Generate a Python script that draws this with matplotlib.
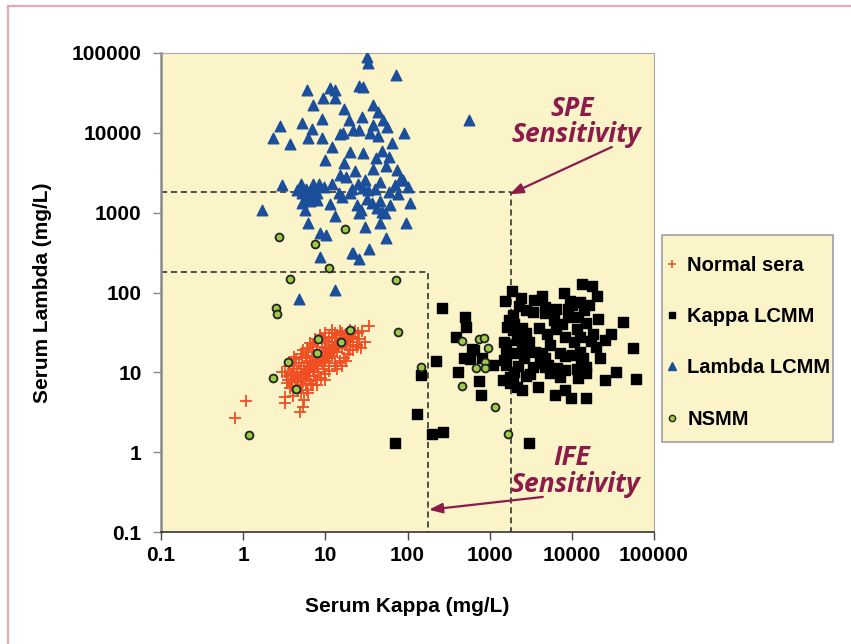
import matplotlib.pyplot as plt
from matplotlib.lines import Line2D
from matplotlib.patches import Rectangle

# Normal sera (kappa, lambda) in mg/L
normal_kappa = [4.0, 4.5, 5, 5.5, 6, 6.5, 7, 7.5, 8, 9, 10, 11, 12, 13, 15, 17,
                4.2, 4.8, 5.2, 5.8, 6.2, 7, 8, 9, 10, 12, 14, 16,
                4.5, 5, 5.5, 6, 6.5, 7, 8, 9, 10, 11, 12, 14, 16, 18, 20,
                3.5, 3.8, 4, 4.6, 5.2, 5.8, 6.4, 7.2, 8.2, 9.5, 11, 13,
                6, 7, 5, 6.8, 7.8, 8.6, 9.4, 10.5, 11.5, 12.5, 13.5, 15, 17, 19, 21,
                5, 6, 7, 8, 9, 11, 13, 15, 18, 20, 22, 25, 24, 26, 22, 19, 17, 15, 13, 11, 9.8, 8.8, 7.6, 6.6,
                3.2, 3.6, 4.4, 5.4, 6.5, 7.5, 8.5, 10, 12,
                34, 28, 24, 20, 3.0, 3.4, 3.7, 3.2, 3.2, 4.9, 5.3, 5.5, 1.08, 0.79, 4, 4.6,
                30, 27, 16, 14, 18, 10, 8, 6.2,
                4.3, 5.1, 5.9, 6.7, 7.4, 8.3, 9.2, 10.2, 11.3, 12.6, 14.2, 3.9, 4.7, 5.6, 6.3, 7.1, 8.0,
                3.4, 3.9, 4.4, 5.0, 5.7, 6.5, 9.0, 10.8, 12.2, 14.5, 16.5, 19.0, 21.5, 23.0, 3.7, 4.1]
normal_lambda = [9, 10, 11, 12, 13, 14, 15, 16, 17, 18, 20, 21, 22, 24, 25, 27,
                 12, 13, 15, 16, 18, 19, 21, 23, 25, 27, 29, 31,
                 7.5, 8, 8.5, 9, 10, 11, 12, 13, 14, 15, 16, 18, 20, 22, 24,
                 8, 9.5, 11, 6.5, 7, 7.2, 8, 9, 10, 11, 12, 13,
                 6, 7, 5.5, 12, 13.5, 15, 16.5, 17.5, 19, 20, 21.5, 23, 24, 26, 28,
                 17, 20, 22, 24, 26, 28, 31, 33, 30, 34, 28, 31, 22, 26, 19, 17, 15, 14, 12, 10.5, 9.5, 8.5, 8, 7.2,
                 10, 12, 14.5, 19, 23, 26, 29, 31, 34,
                 38, 33, 21, 19, 10, 7.3, 6.3, 4.9, 4.1, 3.2, 3.7, 4.5, 4.4, 2.7, 5, 5.8,
                 24, 20, 12, 11, 14, 8, 7, 5.5,
                 8.2, 9.3, 10.5, 11.5, 12.5, 13.8, 14.5, 16, 17.5, 19.5, 21, 6.8, 7.8, 9.8, 10.8, 12.8, 14.2,
                 9.0, 7.8, 8.8, 9.6, 10.2, 11.8, 14.0, 16.0, 18.0, 21.0, 23.0, 25.0, 26.0, 33.0, 13.5, 15.5]

# Kappa LCMM
kappa_kappa = [262, 500, 520, 390, 610, 650, 490, 570, 800, 1100, 410, 740, 780, 220, 145, 130, 200, 270, 3000, 71,
               13200, 17400, 1860, 4300, 1530, 9500, 12500, 2260, 2800, 3350, 4700, 4700, 6400, 9000, 10000, 1900,
               11800, 15000, 21000, 42000, 1630, 1900, 2500, 2800, 4000, 6400, 11500, 12500, 8200, 18000, 25000,
               19500, 1480, 2150, 2470, 2900, 1900, 1570, 1480, 1570, 4300, 4700, 5100, 7100, 8300, 10000, 12500,
               13600, 55000, 14700, 15000, 11500, 6600, 8200, 7100, 5400, 4700, 4100, 3350, 2800, 3100, 2000, 1750,
               1450, 1900, 1750, 2150, 2470, 3900, 25000, 34000, 60000, 11800, 6200, 8200, 9800, 15000,
               1700, 2000, 2300, 1600, 2600, 3000, 3600, 5500, 6000, 7500, 9000, 14000, 16000, 20000, 8000, 2400,
               3500, 5000, 10500, 13000, 17000, 22000, 30000, 2200]
kappa_lambda = [64, 49, 37, 28, 19.6, 19, 15, 14.6, 15, 12.3, 10, 7.8, 5.2, 13.9, 9.3, 3.0, 1.7, 1.8, 1.3, 1.3,
                128, 121, 105, 91, 78, 78, 76, 68, 60, 57, 66, 55, 62, 62, 70, 52,
                49, 42, 47, 43, 37, 34, 36, 31, 36, 35, 35, 28, 28, 30, 25.7,
                21, 24, 25.7, 21, 20, 17.4, 16.6, 14.4, 12.3, 17.4, 15, 12.3, 17.4, 16, 16.6, 18,
                15, 20, 11.7, 9.8, 11, 11.4, 10.7, 8.8, 9.8, 11.7, 13, 11.7, 9, 9.5, 10, 8.8,
                8.0, 8.5, 7.3, 6.6, 6.0, 6.6, 8.0, 10, 8.2, 8.5, 5.2, 6.0, 4.8, 4.8,
                45, 40, 28, 22, 15, 24, 18, 22, 45, 40, 50, 60, 70, 90, 100, 85,
                80, 30, 24, 13, 25, 15, 30, 12]

# Lambda LCMM
lambda_kappa = [32, 33, 72, 6.0, 11.4, 13, 9.3, 13, 7.1, 26, 29, 38, 19.4, 5.2, 2.8, 6.9, 2.3, 3.7, 6.2, 9.1,
                12, 15, 16.5, 21.5, 26, 38, 35, 50, 57, 44, 90, 20, 29, 49, 59, 41, 17, 38, 18, 30, 46, 74,
                80, 87, 3.0, 5.0, 7.1, 8.4, 12, 21, 29, 33, 5.2, 6.5, 7.9, 6.0, 14.6, 20, 76, 5.2, 6.5, 7.9,
                11.4, 32, 37, 46, 107, 1.7, 5.6, 27, 49, 53, 13, 26, 6.2, 30, 46, 95, 8.6, 10.3, 54, 21, 22,
                34, 26, 8.6, 13, 4.8, 560,
                5.8, 6.8, 9.5, 25, 40, 60, 70, 4.5, 7.5, 16, 24, 42, 62, 100, 15, 23, 55, 10, 65, 28, 44, 9, 17]
lambda_lambda = [89000, 75000, 53000, 34600, 36000, 34000, 27500, 27500, 22400, 39000, 38000, 22400, 14500, 13300,
                 12300, 11300, 8700, 7300, 8700, 8500, 6700, 9800, 10000, 11000, 11000, 12500, 10000, 14500, 12000,
                 9200, 10000, 5800, 5600, 6000, 5000, 4900, 4200, 3500, 2800, 2600, 2450, 3400, 2600, 2600, 2200,
                 2300, 2300, 2300, 2300, 2000, 2050, 1900, 1770, 1650, 1770, 1580, 1770, 1770, 1720, 1320, 1380,
                 1450, 1280, 1500, 1320, 1400, 1320, 1080, 1080, 1080, 1020, 1000, 920, 1000, 740, 670, 740, 740,
                 560, 520, 480, 316, 316, 350, 260, 280, 107, 84, 14500,
                 2000, 1900, 2100, 2300, 2000, 1800, 2200, 1900, 1600, 1550, 1250, 1150, 1250, 2100, 3000, 3300,
                 3800, 4600, 7500, 16000, 18000, 15000, 20000]

# NSMM
nsmm_kappa = [2.7, 17.4, 7.4, 11, 3.7, 72, 2.5, 2.6, 20, 76, 8.1, 15.5, 7.9, 3.5, 2.3, 4.4, 145, 1.17,
              460, 740, 850, 950, 880, 690, 880, 460, 1150, 1660]
nsmm_lambda = [500, 630, 400, 205, 148, 145, 64, 54, 34, 32, 26, 24, 17.4, 13.5, 8.5, 6.2, 11.7, 1.64,
               24.6, 26, 27, 20, 13.5, 11.4, 11.4, 6.7, 3.7, 1.7]

ife_cut = 180
spe_cut = 1800
x_ticks = [0.1, 1, 10, 100, 1000, 10000, 100000]
y_ticks = [0.1, 1, 10, 100, 1000, 10000, 100000]
tick_labels = ["0.1", "1", "10", "100", "1000", "10000", "100000"]

bg = "#fbf4c9"
red = "#f04e23"
blue = "#1b4f9c"
green = "#9acd45"
maroon = "#8c1a4b"

plt.rcParams['font.family'] = ['Liberation Sans', 'DejaVu Sans']

fig = plt.figure(figsize=(8.51, 6.44), dpi=100)
ax = fig.add_axes([161 / 851, 1 - 532 / 644, 493 / 851, 479 / 644])
ax.set_facecolor(bg)

# pink frame (top and left only visible)
fig.add_artist(Line2D([8 / 851, 8 / 851], [0, 1 - 6 / 644], transform=fig.transFigure, color="#e2a9b3", lw=1.6))
fig.add_artist(Line2D([8 / 851, 1], [1 - 6 / 644, 1 - 6 / 644], transform=fig.transFigure, color="#e2a9b3", lw=1.6))

ax.scatter(normal_kappa, normal_lambda, marker='+', s=65, color=red, linewidths=1.3, zorder=3)
ax.scatter(kappa_kappa, kappa_lambda, marker='s', s=44, color='black', zorder=4)
ax.scatter(lambda_kappa, lambda_lambda, marker='^', s=58, color=blue, zorder=4)
ax.scatter(nsmm_kappa, nsmm_lambda, marker='o', s=32, facecolor=green, edgecolor='#222222', linewidths=1.3, zorder=5)

# sensitivity boxes
for c in [ife_cut, spe_cut]:
    ax.plot([0.1, c, c], [c, c, 0.1], ls=(0, (4, 2.5)), color='#222222', lw=1.1, zorder=2)

ax.set_xscale('log')
ax.set_yscale('log')
ax.set_xlim(0.1, 100000)
ax.set_ylim(0.1, 100000)
ax.set_xticks(x_ticks)
ax.set_xticklabels(tick_labels)
ax.set_yticks(y_ticks)
ax.set_yticklabels(tick_labels)
ax.minorticks_off()
ax.tick_params(axis='x', direction='out', length=6, width=1, color='#444444', pad=4, labelsize=15)
ax.tick_params(axis='y', direction='out', length=6, width=1, color='#888888', pad=8, labelsize=15)
for lab in ax.get_xticklabels() + ax.get_yticklabels():
    lab.set_fontweight('bold')

ax.spines['left'].set_color('#8a8a8a')
ax.spines['left'].set_linewidth(1.8)
ax.spines['bottom'].set_color('#333333')
ax.spines['bottom'].set_linewidth(1.2)
ax.spines['top'].set_color('#a8a8a8')
ax.spines['right'].set_color('#a8a8a8')

ax.set_xlabel("Serum Kappa (mg/L)", fontsize=15, fontweight='bold', labelpad=23)
ax.set_ylabel("Serum Lambda (mg/L)", fontsize=15, fontweight='bold', labelpad=14)

# annotations
afont = dict(family=['Open Sans', 'DejaVu Sans'], style='italic', fontweight='bold', color=maroon,
             fontsize=19, ha='center', va='center')
ax.text(10000, 20400, "SPE", **afont)
ax.text(11500, 9400, "Sensitivity", **afont)
ax.text(10000, 0.85, "IFE", **afont)
ax.text(11000, 0.39, "Sensitivity", **afont)
arrow = dict(arrowstyle='-|>,head_length=0.8,head_width=0.3', color=maroon, lw=1.6, shrinkA=0, shrinkB=0)
ax.annotate("", xy=(1750, 1700), xytext=(30700, 6650), arrowprops=arrow)
ax.annotate("", xy=(182, 0.19), xytext=(4430, 0.275), arrowprops=arrow)

# legend box
fig.add_artist(Rectangle((662 / 851, 1 - 442 / 644), 171 / 851, 207 / 644, transform=fig.transFigure,
                         facecolor=bg, edgecolor='#a0a0a0', lw=1.2))
handles = [
    Line2D([], [], ls='', marker='+', ms=6, color=red, mew=1.1),
    Line2D([], [], ls='', marker='s', ms=4.5, color='black'),
    Line2D([], [], ls='', marker='^', ms=5.5, color=blue),
    Line2D([], [], ls='', marker='o', ms=4.5, markerfacecolor=green, markeredgecolor='#222222', mew=1),
]
labels = ["Normal sera", "Kappa LCMM", "Lambda LCMM", "NSMM"]
leg = fig.legend(handles, labels, loc='upper left', bbox_to_anchor=(664 / 851, 1 - 256 / 644),
                 frameon=False, prop={'weight': 'bold', 'size': 14.5}, handlelength=0.8,
                 handletextpad=0.35, labelspacing=1.6, borderpad=0, borderaxespad=0)

fig.savefig("out.png", dpi=100, facecolor='white')
